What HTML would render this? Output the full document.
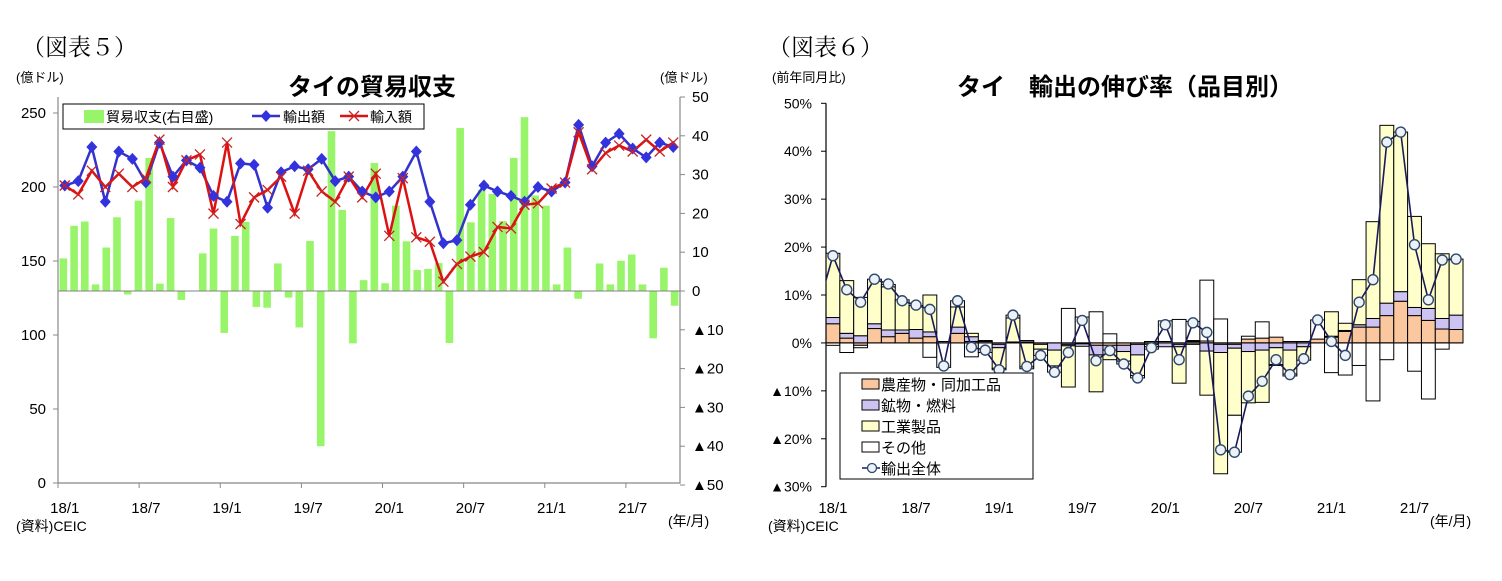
<!DOCTYPE html>
<html><head><meta charset="utf-8">
<style>
body{margin:0;background:#fff;width:1502px;height:581px;overflow:hidden;}
svg{display:block;font-family:"Liberation Sans","Noto Sans CJK JP",sans-serif;}
.j{font-family:"Liberation Serif","Noto Serif CJK SC","Noto Sans CJK JP",serif;}
</style></head>
<body>
<svg id="svg" width="1502" height="581" viewBox="0 0 1502 581">
<text x="22" y="55" font-size="23" class="j">（図表５）</text>
<text x="16" y="82" font-size="13">(億ドル)</text>
<text x="660" y="82" font-size="13">(億ドル)</text>
<text x="372" y="95" font-size="24" font-weight="bold" text-anchor="middle">タイの貿易収支</text>
<text x="16" y="531" font-size="14">(資料)CEIC</text>
<text x="668" y="526" font-size="14">(年/月)</text>
<text x="768" y="55" font-size="23" class="j">（図表６）</text>
<text x="772" y="82" font-size="13">(前年同月比)</text>
<text x="1125" y="95" font-size="24" font-weight="bold" text-anchor="middle">タイ　輸出の伸び率（品目別）</text>
<text x="768" y="531" font-size="14">(資料)CEIC</text>
<text x="1430" y="526" font-size="14">(年/月)</text>
<g id="c5"></g><g id="c6"></g>
</svg>
<script>
// ---- Chart 5 data ----
const months5 = 46;
const xLabels5 = ["18/1","18/7","19/1","19/7","20/1","20/7","21/1","21/7"];
const leftTicks5 = [0,50,100,150,200,250];
const rightTicks5 = [50,40,30,20,10,0,-10,-20,-30,-40,-50];
const exports5 = [201,204,227,190,224,219,203,230,207,218,213,194,190,216,215,186,210,214,212,219,204,207,197,193,197,207,224,190,162,164,188,201,197,194,190,200,197,203,242,214,230,236,226,220,230,227];
const imports5 = [201,195,211,200,209,200,206,232,200,218,222,182,230,175,193,198,207,182,211,197,190,207,193,209,167,206,166,163,136,148,153,156,173,172,188,189,199,203,237,212,223,228,224,232,224,230];
const balance5 = [8.4,16.8,17.9,1.7,11.2,19,-0.9,23.3,34.3,1.9,18.8,-2.3,0,9.7,16.1,-10.8,14.2,17.8,-4.1,-4.3,7.1,-1.7,-9.4,12.9,-40,41.2,20.9,-13.5,2.8,33,2,22,12.8,5.4,5.7,7.2,-13.4,42,17.7,26,25,18,34.3,44.8,24.6,22,1.7,11.2,-2,0,7.1,1.7,7.8,9.4,1.7,-12.2,6,-3.8];

// ---- Chart 6 data ----
const months6 = 46;
const xLabels6 = ["18/1","18/7","19/1","19/7","20/1","20/7","21/1","21/7"];
const yTicks6 = [50,40,30,20,10,0,-10,-20,-30];
const yTickText6 = ["50%","40%","30%","20%","10%","0%","▲10%","▲20%","▲30%"];
const agri6 = [4,1,-0.5,3,1.3,2,1,1.3,0,2,0.3,0,-0.3,0,0.2,0,0,-0.3,-0.2,-0.5,-0.5,-0.5,-0.3,0.3,0.3,-0.3,0.3,0.4,-0.3,-0.3,0.8,1,1.2,0.3,0.3,0.8,1.2,2.4,3.3,3.3,5.7,8.7,5.7,4.7,2.9,2.8];
const mineral6 = [1.3,1,1.5,1,1.4,0.7,1.8,1,0.3,1.3,1,0.3,-0.7,0.2,0.3,-0.3,-1.5,-0.3,-0.5,-2,-1,-1.3,-2.2,-0.3,-0.8,-0.5,-0.3,-1.7,-1.7,-0.8,-1.8,-1.5,-1,-1.5,-0.8,0,0.2,0.2,0.5,1.8,2.6,2,1.7,2.5,2.2,3];
const industry6 = [13.4,11,8,9.3,9,6.3,5,7.7,0,4.2,0.7,0.2,-4.3,5,-5,-1,-3.3,-8.6,0,-7.7,-2,-2,-4.3,-0.5,0,-7.6,0.2,-9.2,-25.3,-14,-10.7,-10.9,-3.5,-5,-2.8,0,5.1,1.5,9.4,20.2,37.1,33.3,19,13.5,13.5,11.7];
const other6 = [-0.5,-2,-0.5,0,0.5,0,0,-3,-5.1,1.3,-2.9,-2,-0.3,0.6,-0.4,-1.3,-1.3,7.2,5.4,6.5,1.9,-0.6,-0.5,-0.5,4.3,4.9,4,12.7,5,-7.7,0.6,3.4,-0.2,-0.4,0,4,-6.2,-6.7,-4.7,-12.1,-3.5,0,-5.9,-11.7,-1.3,0];
const total6 = [18.2,11.1,8.5,13.3,12.3,8.8,7.9,7,-4.8,8.8,-0.9,-1.5,-5.6,5.8,-4.9,-2.6,-6.1,-2,4.7,-3.7,-1.6,-4.4,-7.3,-1,3.8,-3.5,4.2,2.2,-22.3,-22.8,-11.1,-8,-3.5,-6.6,-3.3,4.8,0.3,-2.6,8.5,13.2,41.9,44,20.5,9,17.3,17.5];
const prevTotal6 = 8;

const NS="http://www.w3.org/2000/svg";
function mk(parent,tag,attrs,text){const e=document.createElementNS(NS,tag);for(const k in attrs)e.setAttribute(k,attrs[k]);if(text!==undefined)e.textContent=text;parent.appendChild(e);return e;}

// ===== Chart 5 =====
(function(){
const g=document.getElementById('c5');
const L=58,R=680,T=97,B=483;
const yL=v=>B-(v/250)*(B-113);
const yR=v=>291-(v/50)*(291-97);
const slot=(R-L)/months5;
const xM=i=>L+slot*(i+0.5);
const bslot=(R-L)/balance5.length;
const xB=i=>L+bslot*(i+0.5);
// bars
balance5.forEach((v,i)=>{
  const y0=yR(0),y1=yR(v);
  const r=mk(g,'rect',{x:xB(i)-3.8,y:Math.min(y0,y1),width:7.6,height:Math.abs(y1-y0),fill:'#98f56a'});
  
  
});
// zero line of right axis
const zl=mk(g,'line',{x1:L,x2:R,y1:yR(0),y2:yR(0),stroke:'#808080','stroke-width':1});

// axes
const ax=mk(g,'path',{d:`M${L},${T}V${B}H${R}V${T}`,fill:'none',stroke:'#888','stroke-width':1.2});

leftTicks5.forEach(v=>{
  mk(g,'line',{x1:L-5,x2:L,y1:yL(v),y2:yL(v),stroke:'#888'});
  const t=mk(g,'text',{x:L-12,y:yL(v)+5,'font-size':15,'text-anchor':'end'},String(v));
  
});
rightTicks5.forEach(v=>{
  mk(g,'line',{x1:R,x2:R+5,y1:yR(v),y2:yR(v),stroke:'#888'});
  const t=mk(g,'text',{x:R+12,y:yR(v)+5,'font-size':15},v<0?'▲'+(-v):String(v));
  
});
xLabels5.forEach((s,k)=>{
  const i=k*6;
  mk(g,'line',{x1:L+slot*i,x2:L+slot*i,y1:B,y2:B+5,stroke:'#888'});
  const t=mk(g,'text',{x:xM(i),y:513,'font-size':15,'text-anchor':'middle'},s);
  
});
// export line
const pe=mk(g,'polyline',{points:exports5.map((v,i)=>xM(i)+','+yL(v)).join(' '),fill:'none',stroke:'#3333cc','stroke-width':2.5});

const pi=mk(g,'polyline',{points:imports5.map((v,i)=>xM(i)+','+yL(v)).join(' '),fill:'none',stroke:'#dd1111','stroke-width':2.5});

exports5.forEach((v,i)=>{
  const x=xM(i),y=yL(v);
  const d=mk(g,'polygon',{points:`${x},${y-6} ${x+5.5},${y} ${x},${y+6} ${x-5.5},${y}`,fill:'#3333dd'});
  
});
imports5.forEach((v,i)=>{
  const x=xM(i),y=yL(v);
  const d=mk(g,'path',{d:`M${x-5},${y-5}L${x+5},${y+5}M${x-5},${y+5}L${x+5},${y-5}`,stroke:'#cc2222','stroke-width':1.3});
  
});
// legend
const lg=mk(g,'g',{});

mk(lg,'rect',{x:63,y:104,width:361,height:25,fill:'#fff',stroke:'#000','stroke-width':1});
mk(lg,'rect',{x:84,y:110,width:20,height:13,fill:'#98f56a'});
mk(lg,'text',{x:106,y:122,'font-size':14},'貿易収支(右目盛)');
mk(lg,'line',{x1:252,x2:280,y1:116,y2:116,stroke:'#3333cc','stroke-width':2.5});
mk(lg,'polygon',{points:'266,110 271.5,116 266,122 260.5,116',fill:'#3333dd'});
mk(lg,'text',{x:283,y:122,'font-size':14},'輸出額');
mk(lg,'line',{x1:340,x2:368,y1:116,y2:116,stroke:'#dd1111','stroke-width':2.5});
mk(lg,'path',{d:'M349,111L359,121M349,121L359,111',stroke:'#cc2222','stroke-width':1.3});
mk(lg,'text',{x:370,y:122,'font-size':14},'輸入額');
})();

// ===== Chart 6 =====
(function(){
const g=document.getElementById('c6');
const L=826,R=1463,T=103.3,B=486.7;
const y=v=>T+(50-v)/80*(B-T);
const slot=(R-L)/months6;
const xc=i=>L+slot*(i+0.5);
const series=[[agri6,'#fac79e','agri-bar'],[mineral6,'#cdc3f2','mineral-bar'],[industry6,'#ffffcc','industry-bar'],[other6,'#ffffff','other-bar']];
for(let i=0;i<months6;i++){
  let pos=0,neg=0;
  series.forEach(([arr,col,nm])=>{
    const v=arr[i];let a,b;
    if(v>=0){a=pos;b=pos+v;pos=b;}else{a=neg;b=neg+v;neg=b;}
    const r=mk(g,'rect',{x:L+slot*i,y:Math.min(y(a),y(b)),width:slot,height:Math.abs(y(a)-y(b)),fill:col,stroke:'#000','stroke-width':1});
    
    
  });
}
const ax=mk(g,'path',{d:`M${L},${T}V${B}`,fill:'none',stroke:'#000','stroke-width':1.2});

const zl=mk(g,'line',{x1:L,x2:R,y1:y(0),y2:y(0),stroke:'#000','stroke-width':1});

yTicks6.forEach((v,k)=>{
  mk(g,'line',{x1:L-5,x2:L,y1:y(v),y2:y(v),stroke:'#000'});
  const t=mk(g,'text',{x:L-14,y:y(v)+5,'font-size':14,'text-anchor':'end'},yTickText6[k]);
  
});
xLabels6.forEach((s,k)=>{
  const t=mk(g,'text',{x:xc(k*6),y:513,'font-size':15,'text-anchor':'middle'},s);
  
});
const cp=mk(g,'clipPath',{id:'cp6'});mk(cp,'rect',{x:L,y:T-10,width:R-L+10,height:B-T+20});
const pts=[[xc(-1),y(prevTotal6)]].concat(total6.map((v,i)=>[xc(i),y(v)]));
const pl=mk(g,'polyline',{points:pts.map(p=>p.join(',')).join(' '),fill:'none',stroke:'#1a1a5a','stroke-width':1.6,'clip-path':'url(#cp6)'});

total6.forEach((v,i)=>{
  const c=mk(g,'circle',{cx:xc(i),cy:y(v),r:5,fill:'#eef2f8',stroke:'#2e4a6a','stroke-width':1.4});
  
});
// legend
const lg=mk(g,'g',{});

mk(lg,'rect',{x:840,y:373,width:193,height:106,fill:'#fff',stroke:'#000','stroke-width':1});
const items=[['#fac79e','農産物・同加工品'],['#cdc3f2','鉱物・燃料'],['#ffffcc','工業製品'],['#ffffff','その他']];
items.forEach((it,k)=>{
  const yy=384+k*21;
  mk(lg,'rect',{x:862,y:yy-5,width:17,height:10,fill:it[0],stroke:'#000','stroke-width':1});
  mk(lg,'text',{x:881,y:yy+6,'font-size':15},it[1]);
});
mk(lg,'line',{x1:862,x2:880,y1:468,y2:468,stroke:'#1a1a5a','stroke-width':1.6});
mk(lg,'circle',{cx:872,cy:468,r:4.5,fill:'#eef2f8',stroke:'#2e4a6a','stroke-width':1.3});
mk(lg,'text',{x:881,y:474,'font-size':15},'輸出全体');
})();
</script>
</body></html>
